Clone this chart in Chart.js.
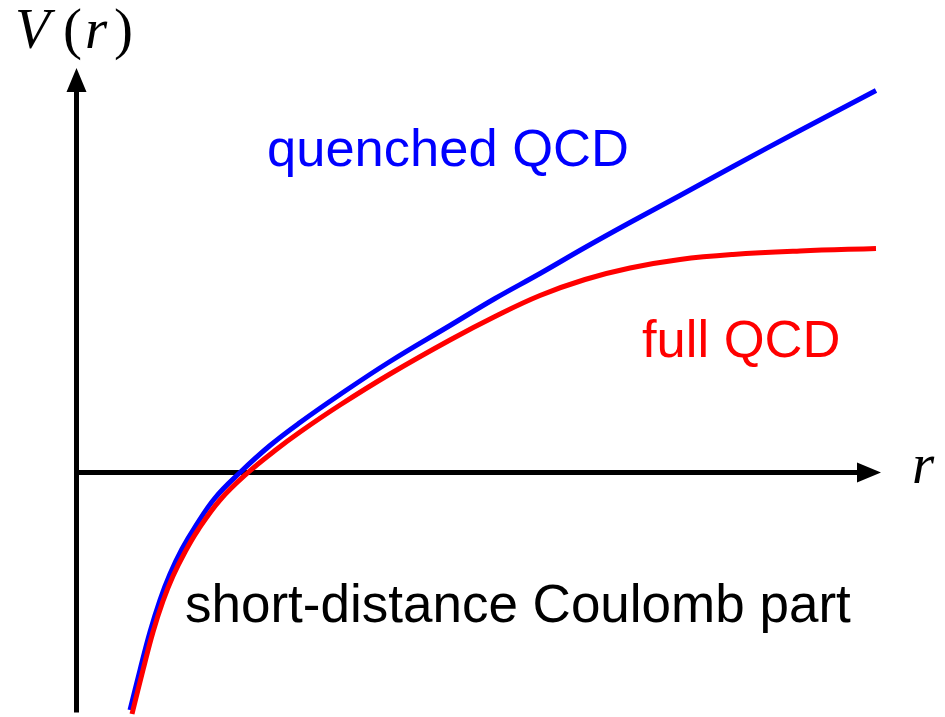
<!DOCTYPE html>
<html>
<head>
<meta charset="utf-8">
<script src="https://cdn.jsdelivr.net/npm/chart.js"></script>
<style>
body { margin: 0; background: #fff; }
#wrap { width: 945px; height: 717px; }
</style>
</head>
<body>
<div id="wrap"><canvas id="potential"></canvas></div>
<script>
// curves (r to the right, V upwards, origin where the axes cross)
var quenchedR = [0.535, 0.635, 0.735, 0.835, 0.935, 1.055, 1.185, 1.385, 1.635, 1.935, 2.235, 2.635, 3.135, 3.735, 4.185, 4.635, 5.085, 5.535, 6.035, 6.565, 7.235, 7.995];
var quenchedV = [-2.375, -1.975, -1.595, -1.275, -1.015, -0.765, -0.545, -0.255, 0.00, 0.27, 0.50, 0.78, 1.11, 1.47, 1.74, 1.99, 2.25, 2.50, 2.77, 3.06, 3.42, 3.82];

var fullR = [0.555, 0.665, 0.765, 0.865, 0.965, 1.085, 1.215, 1.435, 1.715, 1.985, 2.235, 2.635, 3.135, 3.735, 4.185, 4.635, 5.085, 5.535, 6.035, 6.565, 7.235, 7.995];
var fullV = [-2.415, -1.975, -1.595, -1.285, -1.035, -0.795, -0.575, -0.275, 0.00, 0.22, 0.405, 0.675, 0.985, 1.325, 1.56, 1.77, 1.93, 2.045, 2.13, 2.18, 2.215, 2.24];

// axis extent
var rAxisEnd = 8.045;
var vAxisEnd = 4.045;
var vAxisStart = -2.40;

function points(rs, vs) {
  var out = [];
  for (var i = 0; i < rs.length; i++) {
    out.push({x: rs[i], y: vs[i]});
  }
  return out;
}

function serif(ctx, text, x, y, italic) {
  ctx.font = (italic ? "italic " : "") + "57px 'Liberation Serif', serif";
  ctx.fillText(text, x, y);
}

var sketchPlugin = {
  id: "sketch",
  beforeDatasetsDraw: function(chart) {
    var ctx = chart.ctx;
    var sx = chart.scales.x, sy = chart.scales.y;
    var x0 = sx.getPixelForValue(0);
    var y0 = sy.getPixelForValue(0);
    var xEnd = sx.getPixelForValue(rAxisEnd);
    var yEnd = sy.getPixelForValue(vAxisEnd);
    var yStart = sy.getPixelForValue(vAxisStart);

    ctx.save();
    ctx.strokeStyle = "#000";
    ctx.fillStyle = "#000";
    ctx.lineWidth = 5;
    ctx.beginPath();
    ctx.moveTo(x0, yStart);
    ctx.lineTo(x0, yEnd + 20);
    ctx.moveTo(x0 - 2.5, y0);
    ctx.lineTo(xEnd - 20, y0);
    ctx.stroke();

    ctx.beginPath();
    ctx.moveTo(x0, yEnd);
    ctx.lineTo(x0 - 10, yEnd + 24);
    ctx.lineTo(x0 + 10, yEnd + 24);
    ctx.closePath();
    ctx.moveTo(xEnd, y0);
    ctx.lineTo(xEnd - 24, y0 - 10);
    ctx.lineTo(xEnd - 24, y0 + 10);
    ctx.closePath();
    ctx.fill();
    ctx.restore();
  },
  afterDatasetsDraw: function(chart) {
    var ctx = chart.ctx;
    ctx.save();
    ctx.textAlign = "left";
    ctx.textBaseline = "alphabetic";

    ctx.font = "52.5px 'Liberation Sans', Arial, sans-serif";
    ctx.fillStyle = "#0000ff";
    ctx.fillText("quenched QCD", 267, 166);
    ctx.fillStyle = "#ff0000";
    ctx.fillText("full QCD", 642, 357);
    ctx.fillStyle = "#000";
    ctx.font = "53px 'Liberation Sans', Arial, sans-serif";
    ctx.fillText("short-distance Coulomb part", 185, 622);

    // axis labels
    serif(ctx, "V", 15, 48, true);
    serif(ctx, "(", 63, 48, false);
    serif(ctx, "r", 85, 48, true);
    serif(ctx, ")", 114, 48, false);
    serif(ctx, "r", 912, 483, true);
    ctx.restore();
  }
};

new Chart("potential", {
  type: "line",
  data: {
    datasets: [{
      label: "full QCD",
      data: points(fullR, fullV),
      borderColor: "#ff0000",
      borderWidth: 5,
      pointRadius: 0,
      tension: 0.4,
      fill: false
    }, {
      label: "quenched QCD",
      data: points(quenchedR, quenchedV),
      borderColor: "#0000ff",
      borderWidth: 5,
      pointRadius: 0,
      tension: 0.4,
      fill: false
    }]
  },
  options: {
    responsive: true,
    maintainAspectRatio: false,
    animation: false,
    events: [],
    layout: {padding: 0},
    plugins: {
      legend: {display: false},
      tooltip: {enabled: false}
    },
    scales: {
      x: {type: "linear", min: -0.765, max: 8.685, display: false},
      y: {type: "linear", min: -2.445, max: 4.725, display: false}
    }
  },
  plugins: [sketchPlugin]
});
</script>
</body>
</html>
